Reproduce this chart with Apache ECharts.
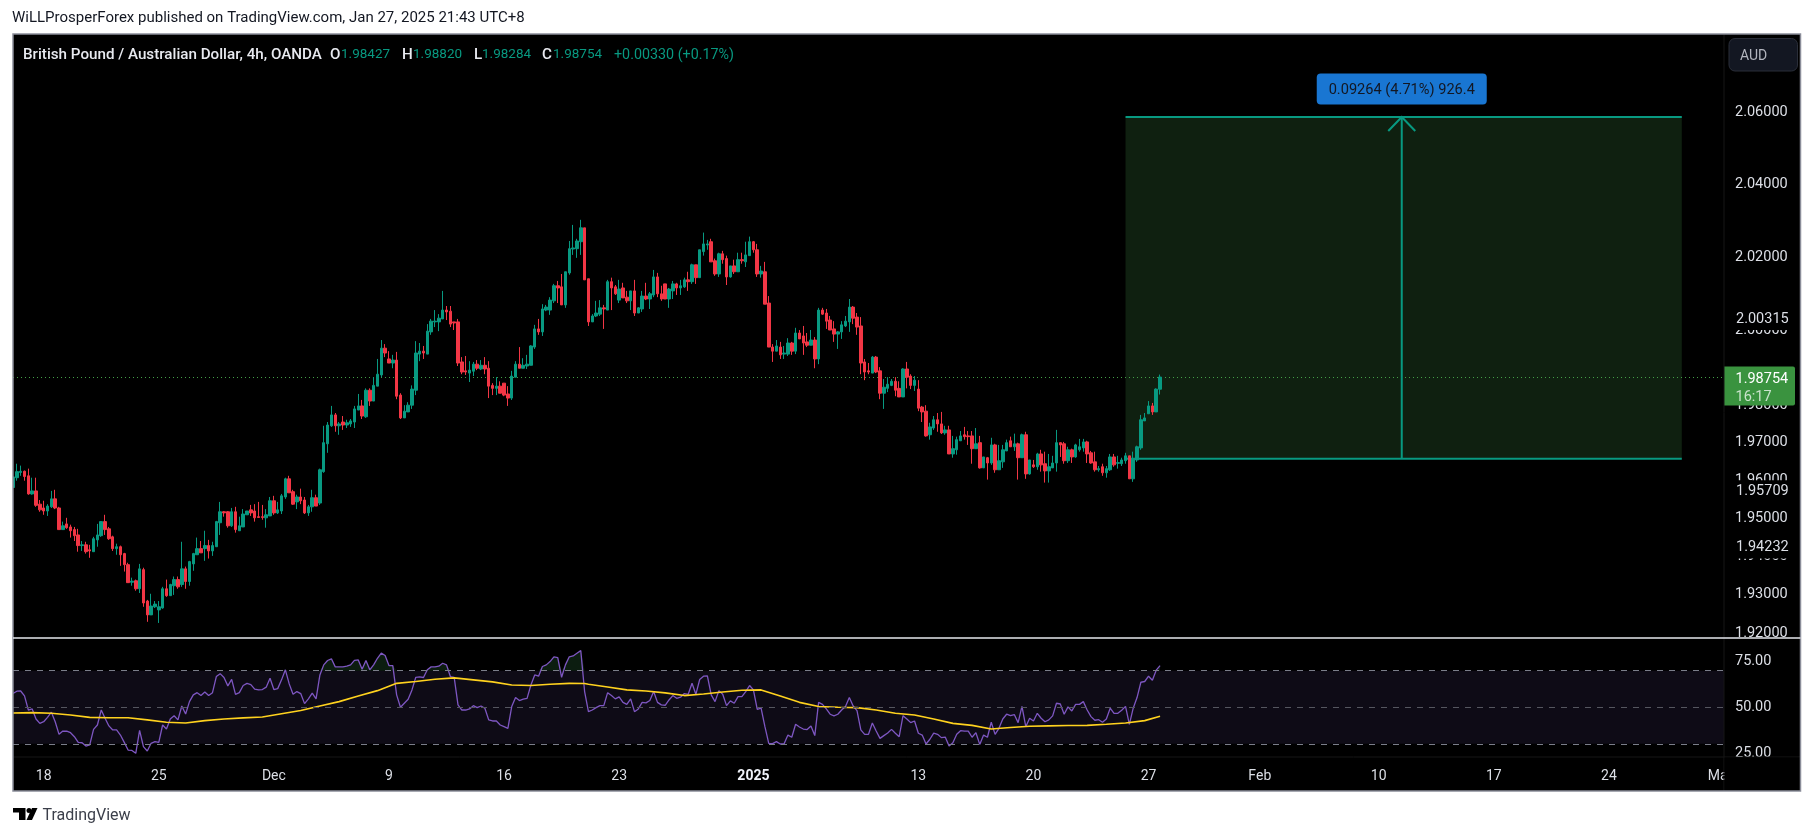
<!DOCTYPE html>
<html><head><meta charset="utf-8">
<style>html,body{margin:0;padding:0;background:#fff}#c{width:1814px;height:836px}</style>
<script src="https://cdn.jsdelivr.net/npm/echarts@6/dist/echarts.min.js"></script>
</head><body><div id="c"></div>
<script>
// [open, close, low, high] per 4h bar
const ohlc = [
[1.9581,1.9609,1.9581,1.9609],[1.9607,1.9623,1.9599,1.9644],[1.9621,1.9624,1.9612,1.9639],[1.9624,1.9610,1.9599,1.9626],[1.9612,1.9564,1.9562,1.9631],
[1.9564,1.9572,1.9562,1.9607],[1.9572,1.9534,1.9530,1.9607],[1.9537,1.9522,1.9517,1.9548],[1.9527,1.9519,1.9509,1.9546],[1.9519,1.9532,1.9506,1.9537],
[1.9530,1.9551,1.9527,1.9572],[1.9551,1.9527,1.9524,1.9575],[1.9527,1.9470,1.9470,1.9530],[1.9470,1.9480,1.9470,1.9491],[1.9485,1.9475,1.9472,1.9501],
[1.9477,1.9467,1.9449,1.9483],[1.9470,1.9454,1.9440,1.9477],[1.9456,1.9428,1.9412,1.9472],[1.9428,1.9430,1.9414,1.9440],[1.9430,1.9412,1.9407,1.9438],
[1.9417,1.9414,1.9396,1.9430],[1.9412,1.9446,1.9412,1.9451],[1.9443,1.9456,1.9425,1.9485],[1.9454,1.9491,1.9451,1.9491],[1.9491,1.9470,1.9456,1.9509],
[1.9472,1.9446,1.9443,1.9477],[1.9451,1.9420,1.9414,1.9454],[1.9420,1.9425,1.9404,1.9433],[1.9425,1.9404,1.9375,1.9428],[1.9407,1.9378,1.9360,1.9409],
[1.9378,1.9331,1.9331,1.9383],[1.9332,1.9335,1.9323,1.9344],[1.9336,1.9315,1.9310,1.9339],[1.9315,1.9367,1.9304,1.9380],[1.9365,1.9278,1.9268,1.9370],
[1.9283,1.9247,1.9229,1.9286],[1.9247,1.9270,1.9247,1.9302],[1.9268,1.9275,1.9265,1.9283],[1.9260,1.9268,1.9226,1.9283],[1.9265,1.9315,1.9263,1.9320],
[1.9315,1.9297,1.9294,1.9339],[1.9297,1.9326,1.9297,1.9328],[1.9323,1.9339,1.9299,1.9347],[1.9339,1.9320,1.9315,1.9347],[1.9326,1.9367,1.9320,1.9438],
[1.9367,1.9334,1.9315,1.9373],[1.9334,1.9386,1.9323,1.9388],[1.9380,1.9407,1.9362,1.9409],[1.9404,1.9420,1.9404,1.9449],[1.9420,1.9409,1.9409,1.9440],
[1.9420,1.9428,1.9388,1.9467],[1.9428,1.9414,1.9394,1.9443],[1.9414,1.9428,1.9401,1.9438],[1.9425,1.9491,1.9425,1.9493],[1.9488,1.9517,1.9456,1.9543],
[1.9517,1.9514,1.9504,1.9519],[1.9517,1.9480,1.9475,1.9519],[1.9480,1.9517,1.9477,1.9527],[1.9517,1.9470,1.9462,1.9530],[1.9467,1.9480,1.9467,1.9504],
[1.9477,1.9511,1.9477,1.9524],[1.9509,1.9519,1.9509,1.9519],[1.9522,1.9514,1.9506,1.9535],[1.9519,1.9501,1.9491,1.9537],[1.9504,1.9502,1.9501,1.9543],
[1.9504,1.9502,1.9496,1.9535],[1.9501,1.9509,1.9475,1.9524],[1.9506,1.9546,1.9506,1.9556],[1.9546,1.9514,1.9509,1.9559],[1.9514,1.9522,1.9511,1.9543],
[1.9519,1.9559,1.9511,1.9564],[1.9556,1.9604,1.9551,1.9607],[1.9604,1.9567,1.9567,1.9612],[1.9570,1.9537,1.9535,1.9575],[1.9543,1.9556,1.9524,1.9562],
[1.9556,1.9546,1.9537,1.9578],[1.9548,1.9514,1.9511,1.9556],[1.9514,1.9530,1.9506,1.9535],[1.9530,1.9554,1.9517,1.9575],[1.9554,1.9532,1.9532,1.9562],
[1.9540,1.9628,1.9535,1.9631],[1.9623,1.9700,1.9620,1.9745],[1.9697,1.9747,1.9673,1.9755],[1.9745,1.9774,1.9742,1.9798],[1.9774,1.9745,1.9729,1.9779],
[1.9745,1.9750,1.9721,1.9755],[1.9755,1.9747,1.9734,1.9771],[1.9747,1.9753,1.9739,1.9761],[1.9750,1.9758,1.9742,1.9763],[1.9755,1.9790,1.9739,1.9798],
[1.9787,1.9798,1.9787,1.9830],[1.9798,1.9771,1.9763,1.9814],[1.9769,1.9840,1.9766,1.9845],[1.9840,1.9811,1.9798,1.9845],[1.9811,1.9853,1.9811,1.9875],
[1.9851,1.9883,1.9851,1.9924],[1.9881,1.9953,1.9875,1.9975],[1.9953,1.9940,1.9929,1.9964],[1.9924,1.9913,1.9913,1.9945],[1.9913,1.9921,1.9899,1.9935],
[1.9921,1.9824,1.9816,1.9943],[1.9827,1.9766,1.9763,1.9832],[1.9766,1.9784,1.9766,1.9800],[1.9782,1.9800,1.9782,1.9808],[1.9800,1.9843,1.9790,1.9853],
[1.9840,1.9940,1.9827,1.9972],[1.9937,1.9945,1.9918,1.9967],[1.9945,1.9940,1.9924,1.9959],[1.9937,1.9999,1.9937,2.0018],[1.9997,2.0026,1.9989,2.0032],
[2.0024,2.0026,2.0010,2.0056],[2.0024,2.0034,1.9999,2.0045],[2.0032,2.0056,2.0032,2.0108],[2.0056,2.0051,2.0029,2.0067],[2.0053,2.0018,2.0010,2.0067],
[2.0024,2.0021,2.0002,2.0024],[2.0024,1.9913,1.9905,2.0032],[1.9916,1.9889,1.9883,1.9929],[1.9892,1.9889,1.9881,1.9932],[1.9886,1.9894,1.9862,1.9918],
[1.9891,1.9910,1.9878,1.9916],[1.9910,1.9899,1.9894,1.9921],[1.9897,1.9907,1.9894,1.9921],[1.9907,1.9897,1.9883,1.9929],[1.9899,1.9851,1.9819,1.9918],
[1.9853,1.9845,1.9827,1.9859],[1.9845,1.9851,1.9827,1.9875],[1.9851,1.9832,1.9832,1.9864],[1.9859,1.9827,1.9824,1.9859],[1.9830,1.9819,1.9798,1.9851],
[1.9819,1.9878,1.9814,1.9892],[1.9875,1.9910,1.9875,1.9918],[1.9910,1.9899,1.9899,1.9956],[1.9899,1.9907,1.9899,1.9926],[1.9905,1.9910,1.9897,1.9935],
[1.9907,1.9959,1.9907,1.9961],[1.9956,2.0005,1.9951,2.0016],[2.0005,1.9997,1.9989,2.0032],[1.9997,2.0059,1.9986,2.0072],[2.0056,2.0064,2.0053,2.0070],
[2.0056,2.0083,2.0043,2.0091],[2.0081,2.0122,2.0075,2.0127],[2.0122,2.0116,2.0075,2.0135],[2.0119,2.0070,2.0070,2.0154],[2.0070,2.0160,2.0062,2.0160],
[2.0157,2.0223,2.0152,2.0244],[2.0222,2.0225,2.0206,2.0288],[2.0223,2.0244,2.0198,2.0250],[2.0242,2.0280,2.0206,2.0302],[2.0280,2.0138,2.0138,2.0280],
[2.0141,2.0024,2.0013,2.0141],[2.0024,2.0040,2.0024,2.0045],[2.0040,2.0048,2.0037,2.0081],[2.0045,2.0062,2.0040,2.0083],[2.0062,2.0059,2.0005,2.0070],
[2.0056,2.0133,2.0056,2.0138],[2.0133,2.0116,2.0056,2.0144],[2.0119,2.0100,2.0097,2.0124],[2.0083,2.0113,2.0075,2.0138],[2.0116,2.0089,2.0089,2.0130],
[2.0091,2.0081,2.0075,2.0108],[2.0081,2.0108,2.0056,2.0108],[2.0108,2.0048,2.0040,2.0138],[2.0048,2.0062,2.0048,2.0064],[2.0059,2.0094,2.0051,2.0108],
[2.0094,2.0086,2.0083,2.0130],[2.0086,2.0100,2.0059,2.0105],[2.0097,2.0146,2.0091,2.0165],[2.0146,2.0100,2.0091,2.0157],[2.0100,2.0086,2.0081,2.0122],
[2.0127,2.0086,2.0086,2.0127],[2.0086,2.0113,2.0062,2.0116],[2.0108,2.0127,2.0086,2.0135],[2.0127,2.0116,2.0097,2.0130],[2.0116,2.0122,2.0097,2.0138],
[2.0119,2.0138,2.0116,2.0144],[2.0138,2.0133,2.0108,2.0160],[2.0133,2.0179,2.0127,2.0182],[2.0179,2.0144,2.0127,2.0179],[2.0144,2.0220,2.0144,2.0220],
[2.0215,2.0236,2.0204,2.0267],[2.0233,2.0236,2.0220,2.0247],[2.0242,2.0187,2.0187,2.0250],[2.0190,2.0154,2.0149,2.0196],[2.0154,2.0209,2.0146,2.0212],
[2.0209,2.0193,2.0182,2.0217],[2.0196,2.0146,2.0124,2.0204],[2.0146,2.0176,2.0144,2.0176],[2.0176,2.0160,2.0154,2.0193],[2.0160,2.0193,2.0160,2.0212],
[2.0193,2.0190,2.0182,2.0212],[2.0187,2.0206,2.0173,2.0242],[2.0204,2.0242,2.0204,2.0256],[2.0242,2.0220,2.0212,2.0244],[2.0220,2.0154,2.0146,2.0236],
[2.0154,2.0162,2.0144,2.0176],[2.0160,2.0072,2.0072,2.0187],[2.0075,1.9956,1.9956,2.0094],[1.9956,1.9945,1.9916,1.9964],[1.9945,1.9959,1.9945,1.9975],
[1.9956,1.9935,1.9924,1.9970],[1.9937,1.9940,1.9924,1.9959],[1.9937,1.9967,1.9932,1.9980],[1.9967,1.9945,1.9935,1.9970],[1.9945,1.9994,1.9937,2.0008],
[1.9994,1.9978,1.9978,2.0002],[1.9986,1.9967,1.9935,2.0013],[1.9970,1.9961,1.9956,1.9994],[1.9961,1.9975,1.9961,2.0002],[1.9975,1.9924,1.9899,1.9983],
[1.9924,2.0056,1.9910,2.0062],[2.0056,2.0045,2.0043,2.0062],[2.0048,2.0026,2.0005,2.0059],[2.0029,2.0002,2.0002,2.0040],[2.0005,1.9991,1.9970,2.0026],
[1.9991,1.9997,1.9951,1.9999],[1.9997,2.0016,1.9978,2.0026],[2.0013,2.0026,2.0010,2.0040],[2.0024,2.0064,1.9997,2.0086],[2.0064,2.0034,2.0018,2.0067],
[2.0037,2.0010,1.9989,2.0048],[2.0013,1.9913,1.9883,2.0037],[1.9916,1.9889,1.9867,1.9924],[1.9892,1.9889,1.9883,1.9913],[1.9886,1.9929,1.9886,1.9932],
[1.9929,1.9889,1.9886,1.9932],[1.9892,1.9832,1.9816,1.9902],[1.9832,1.9848,1.9790,1.9870],[1.9845,1.9856,1.9835,1.9875],[1.9853,1.9864,1.9851,1.9870],
[1.9864,1.9840,1.9824,1.9875],[1.9845,1.9822,1.9822,1.9864],[1.9822,1.9897,1.9822,1.9899],[1.9897,1.9875,1.9845,1.9916],[1.9878,1.9853,1.9843,1.9883],
[1.9853,1.9867,1.9838,1.9878],[1.9843,1.9792,1.9784,1.9867],[1.9795,1.9782,1.9755,1.9798],[1.9784,1.9718,1.9716,1.9800],[1.9721,1.9742,1.9708,1.9753],
[1.9739,1.9761,1.9734,1.9771],[1.9761,1.9750,1.9729,1.9779],[1.9750,1.9726,1.9723,1.9782],[1.9726,1.9734,1.9721,1.9745],[1.9734,1.9670,1.9670,1.9745],
[1.9670,1.9684,1.9660,1.9718],[1.9681,1.9708,1.9668,1.9716],[1.9705,1.9718,1.9705,1.9731],[1.9721,1.9716,1.9708,1.9742],[1.9718,1.9716,1.9694,1.9731],
[1.9718,1.9684,1.9644,1.9731],[1.9684,1.9697,1.9684,1.9739],[1.9700,1.9633,1.9631,1.9718],[1.9633,1.9662,1.9633,1.9662],[1.9660,1.9646,1.9602,1.9662],
[1.9646,1.9694,1.9641,1.9713],[1.9694,1.9628,1.9620,1.9697],[1.9628,1.9652,1.9628,1.9694],[1.9649,1.9681,1.9633,1.9694],[1.9678,1.9700,1.9678,1.9708],
[1.9705,1.9689,1.9689,1.9716],[1.9689,1.9697,1.9678,1.9724],[1.9697,1.9660,1.9602,1.9700],[1.9660,1.9721,1.9660,1.9724],[1.9721,1.9617,1.9604,1.9729],
[1.9617,1.9654,1.9615,1.9654],[1.9641,1.9636,1.9633,1.9654],[1.9636,1.9670,1.9628,1.9673],[1.9670,1.9641,1.9623,1.9681],[1.9644,1.9625,1.9594,1.9676],
[1.9625,1.9636,1.9594,1.9670],[1.9633,1.9646,1.9633,1.9665],[1.9646,1.9700,1.9623,1.9734],[1.9700,1.9694,1.9662,1.9700],[1.9697,1.9652,1.9644,1.9702],
[1.9652,1.9681,1.9646,1.9689],[1.9681,1.9662,1.9646,1.9684],[1.9662,1.9694,1.9660,1.9697],[1.9681,1.9689,1.9676,1.9710],[1.9686,1.9702,1.9676,1.9710],
[1.9702,1.9670,1.9646,1.9705],[1.9673,1.9646,1.9644,1.9678],[1.9649,1.9628,1.9623,1.9676],[1.9628,1.9631,1.9623,1.9638],[1.9636,1.9620,1.9612,1.9644],
[1.9620,1.9631,1.9607,1.9638],[1.9628,1.9662,1.9625,1.9670],[1.9662,1.9641,1.9636,1.9670],[1.9645,1.9647,1.9631,1.9665],[1.9644,1.9654,1.9638,1.9660],
[1.9652,1.9665,1.9644,1.9673],[1.9665,1.9604,1.9604,1.9665],[1.9604,1.9657,1.9596,1.9676],[1.9654,1.9689,1.9649,1.9692],[1.9686,1.9761,1.9681,1.9774],
[1.9758,1.9766,1.9758,1.9779],[1.9777,1.9798,1.9777,1.9811],[1.9798,1.9782,1.9774,1.9806],[1.9782,1.9843,1.9782,1.9845],[1.98427,1.98754,1.98284,1.98820]
];
const rsiValues = [
57.5,58.8,58.9,56.2,48.5,49.1,43.6,41.2,42.1,44.5,47.3,42.1,35.2,37.0,36.9,36.1,33.9,30.8,30.6,28.8,
29.4,37.9,40.3,48.5,44.0,39.8,37.6,37.6,34.8,30.8,26.6,26.4,24.8,37.4,28.5,26.1,30.3,31.2,30.8,40.3,
38.1,43.6,45.4,43.1,50.7,46.3,53.1,56.8,58.0,56.4,58.4,56.4,58.0,66.8,68.4,66.3,61.7,65.3,57.1,58.0,
61.9,63.1,62.4,59.9,59.5,59.7,61.0,65.9,59.7,60.2,65.0,70.5,62.8,57.1,58.6,57.5,52.0,54.6,57.7,54.6,
67.7,73.2,75.6,76.5,72.1,72.1,72.1,72.5,73.2,75.7,75.9,70.8,75.6,70.5,73.2,76.8,79.6,78.3,72.8,72.8,
56.8,50.0,52.2,54.4,59.5,66.4,66.6,66.3,70.5,72.1,72.1,72.5,74.1,73.2,66.8,66.4,51.3,48.5,48.5,49.1,
50.9,49.8,50.7,49.5,43.1,42.5,42.5,40.3,39.4,38.5,50.4,55.3,53.7,54.4,54.9,62.2,67.7,67.0,72.3,73.2,
75.0,77.6,77.2,66.4,73.2,77.6,78.1,79.6,81.0,58.6,47.6,48.5,49.8,50.9,50.9,58.0,56.4,54.6,55.7,52.7,
51.6,54.6,47.6,49.1,52.7,52.4,53.7,58.6,52.7,51.3,51.1,54.0,56.4,54.9,55.5,57.5,57.1,63.1,57.1,65.2,
67.0,67.2,56.8,53.1,59.1,57.1,50.9,53.5,52.2,55.8,55.8,58.6,61.9,59.5,48.9,49.5,39.4,30.3,30.1,31.2,
29.9,30.1,34.8,33.6,40.7,39.2,38.1,37.8,39.8,34.5,52.7,51.6,49.1,46.2,45.3,46.2,48.5,50.4,55.3,50.7,
48.2,37.6,35.2,35.2,41.4,37.0,33.0,34.5,35.9,37.9,35.8,33.9,45.4,43.6,41.6,42.5,35.8,34.8,29.9,32.5,
35.9,35.2,33.4,33.7,28.8,30.6,35.2,37.2,37.0,37.0,33.6,36.1,29.7,34.8,33.6,41.8,35.2,38.5,43.6,46.2,
45.4,46.0,41.6,50.5,39.4,44.0,42.5,46.7,44.0,42.1,43.1,45.3,52.2,51.8,46.2,50.2,48.0,51.6,51.6,53.1,
48.5,44.9,42.9,43.2,41.8,43.6,49.5,46.7,46.7,48.4,50.5,40.7,49.5,55.3,63.7,64.1,67.0,64.8,70.3,72.8
];
const rsiMaBars = [0,5,10,15,20,25,30,35,40,45,50,55,60,65,70,75,80,85,90,95,100,105,110,115,120,125,130,135,140,145,149,150,155,160,165,170,175,180,185,190,195,200,205,210,215,220,225,230,235,240,245,250,255,260,265,270,275,280,285,290,295,299];
const rsiMaValues = [46.9,47.1,46.7,45.8,44.5,44.3,44.3,43.1,41.8,41.4,42.7,43.6,44.2,44.7,46.5,48.2,50.7,53.1,56.2,59.1,63.1,64.1,65.3,66.1,65.0,63.9,62.2,61.9,62.6,63.1,63.0,62.6,61.1,59.5,58.9,57.9,56.4,57.3,58.4,59.3,59.5,56.2,52.7,50.4,50.0,49.8,48.5,46.7,45.8,43.6,41.2,40.1,38.1,38.9,39.6,39.8,40.0,40.1,40.7,41.4,42.7,45.1];
const barCount = 447;
const timeTickBars = [8,38,68,98,128,158,193,236,266,296,325,356,386,416,445];
const timeTickLabels = ['18','25','Dec','9','16','23','2025','13','20','27','Feb','10','17','24','Mar'];
const priceTicks = [2.06,2.04,2.02,2.00,1.98,1.97,1.96,1.95,1.94,1.93,1.92];
const priceMarks = [2.00315,1.95709,1.94232];
const rsiTicks = [75,50,25];
const rsiLevels = [70,50,30];
const lastClose = 1.98754;
const toolLeftBar = 290, toolRightBar = 435, toolMidBar = 362;
const toolTop = 2.0586, toolEntry = 1.9657;

const UP='#089981', DOWN='#F23645', LABEL='#dcdfe6', FONT='Roboto, sans-serif';
const categories = Array.from({length:barCount},(_,i)=>{const k=timeTickBars.indexOf(i);return k>=0?timeTickLabels[k]:'';});
const gridL=13, gridW=1711, gridR=gridL+gridW, frameR=1800.5, priceTop=34, sepY=638, timeY=757, frameB=791;

const chart = echarts.init(document.getElementById('c'),null,{renderer:'canvas'});
const priceAxis = (extra)=>Object.assign({type:'log',logBase:10,gridIndex:0,position:'right',min:1.9187,max:2.0818,
  axisLine:{show:false},axisTick:{show:false},splitLine:{show:false},minorTick:{show:false},minorSplitLine:{show:false}},extra);
const priceLabel = {show:true,color:LABEL,fontFamily:FONT,fontSize:14.5,margin:11,align:'left',padding:[8,0,0,0],formatter:v=>Number(v).toFixed(5)};

function t(x,y,text,fill,font,extra){return Object.assign({type:'text',z:110,silent:true,style:{x,y,text,fill,font,verticalAlign:'middle'}},extra||{});}
const legendY=55, LF='13.5px '+FONT, LB='500 15.2px '+FONT;
chart.setOption({
  animation:false,
  backgroundColor:'#ffffff',
  grid:[{left:gridL,top:priceTop,width:gridW,height:sepY-priceTop},{left:gridL,top:sepY,width:gridW,height:timeY-sepY}],
  xAxis:[
    {type:'category',gridIndex:0,data:categories,boundaryGap:false,axisLine:{show:false},axisTick:{show:false},axisLabel:{show:false},splitLine:{show:false}},
    {type:'category',gridIndex:1,data:categories,boundaryGap:false,axisLine:{show:false},axisTick:{show:false},splitLine:{show:false},
     axisLabel:{show:true,interval:(i,v)=>v!=='',color:LABEL,fontFamily:FONT,fontSize:14,margin:12,
       formatter:v=>v==='2025'?'{b|2025}':v,rich:{b:{fontWeight:'bold',fontSize:14,color:'#f0f3fa',fontFamily:FONT}}}}
  ],
  yAxis:[
    priceAxis({z:1,axisLabel:Object.assign({},priceLabel,{customValues:priceTicks})}),
    priceAxis({z:2,axisLabel:Object.assign({},priceLabel,{customValues:priceMarks,backgroundColor:'#000',padding:[7,1,0,1]})}),
    {type:'value',gridIndex:1,position:'right',min:22.8,max:87.9,axisLine:{show:false},axisTick:{show:false},splitLine:{show:false},
     axisLabel:{show:true,customValues:rsiTicks,color:LABEL,fontFamily:FONT,fontSize:14.5,margin:11,align:'left',padding:[5,0,0,0],formatter:v=>Number(v).toFixed(2)}}
  ],
  series:[
    {type:'custom',name:'Position',xAxisIndex:0,yAxisIndex:0,z:1,silent:true,data:[[toolMidBar,toolTop]],
     renderItem(p,api){
       const a=api.coord([toolLeftBar,toolTop]), b=api.coord([toolRightBar,toolEntry]), m=api.coord([toolMidBar,toolTop]);
       const priceY=Math.round(api.coord([0,lastClose])[1])+0.5;
       const L={stroke:UP,lineWidth:2,fill:null};
       const cy=m[1]-28;
       return {type:'group',children:[
         {type:'rect',shape:{x:a[0],y:a[1],width:b[0]-a[0],height:b[1]-a[1]},style:{fill:'#0f2010'}},
         {type:'line',shape:{x1:gridL,y1:priceY,x2:gridR,y2:priceY},style:{stroke:'#43a047',lineWidth:1,lineDash:[1,3]}},
         {type:'line',shape:{x1:a[0],y1:a[1],x2:b[0],y2:a[1]},style:L},
         {type:'line',shape:{x1:a[0],y1:b[1],x2:b[0],y2:b[1]},style:L},
         {type:'line',shape:{x1:m[0],y1:a[1],x2:m[0],y2:b[1]},style:{stroke:UP,lineWidth:2}},
         {type:'polyline',shape:{points:[[m[0]-13.5,a[1]+14],[m[0],a[1]],[m[0]+13.5,a[1]+14]]},style:{stroke:UP,lineWidth:2,fill:null}},
         {type:'rect',shape:{x:m[0]-85,y:cy-15.5,width:170,height:31,r:4},style:{fill:'#1976D2'}},
         {type:'text',style:{x:m[0],y:cy+1,text:'0.09264 (4.71%) 926.4',fill:'#131722',font:'14.6px '+FONT,align:'center',verticalAlign:'middle'}}
       ]};
     }},
    {type:'candlestick',name:'GBPAUD',xAxisIndex:0,yAxisIndex:0,z:3,data:ohlc,barWidth:3,
     itemStyle:{color:UP,color0:DOWN,borderColor:UP,borderColor0:DOWN,borderWidth:1}},
    {type:'custom',name:'Price tag',xAxisIndex:0,yAxisIndex:0,z:8,silent:true,data:[[299,lastClose]],
     renderItem(p,api){
       const c=api.coord([299,lastClose]), x=gridR;
       return {type:'group',children:[
         {type:'rect',shape:{x,y:c[1]-10.5,width:71,height:39,r:[0,2,2,0]},style:{fill:'#3a933f'}},
         {type:'text',style:{x:x+11.5,y:c[1]+2.5,text:lastClose.toFixed(5),fill:'#ffffff',font:'14.5px '+FONT,verticalAlign:'middle'}},
         {type:'text',style:{x:x+11.5,y:c[1]+20.5,text:'16:17',fill:'#c9e3cb',font:'14.5px '+FONT,verticalAlign:'middle'}}
       ]};
     }},
    {type:'line',name:'RSI band',xAxisIndex:1,yAxisIndex:2,z:1,data:[],silent:true,
     markArea:{silent:true,itemStyle:{color:'#0e0b16'},data:[[{yAxis:rsiLevels[2]},{yAxis:rsiLevels[0]}]]},
     markLine:{silent:true,symbol:'none',label:{show:false},lineStyle:{color:'#7b7e8a',type:[6,6],width:1},
       data:rsiLevels.map(v=>v===50?{yAxis:v,lineStyle:{color:'#55565f'}}:{yAxis:v})}},
    {type:'line',name:'RSI over',xAxisIndex:1,yAxisIndex:2,z:2,silent:true,showSymbol:false,data:rsiValues.map(v=>Math.max(v,rsiLevels[0])),
     lineStyle:{opacity:0},areaStyle:{color:'#0c1d10',origin:rsiLevels[0],opacity:1}},
    {type:'line',name:'RSI',xAxisIndex:1,yAxisIndex:2,z:3,silent:true,showSymbol:false,data:rsiValues,lineStyle:{color:'#7E57C2',width:1.3}},
    {type:'line',name:'RSI MA',xAxisIndex:1,yAxisIndex:2,z:4,silent:true,showSymbol:false,data:rsiMaBars.map((b,k)=>[b,rsiMaValues[k]]),lineStyle:{color:'#FFD21E',width:1.6}}
  ],
  graphic:[
    {type:'rect',z:-5,silent:true,shape:{x:gridL,y:priceTop,width:frameR-gridL,height:frameB-priceTop},style:{fill:'#000'}},
    {type:'rect',z:99,silent:true,shape:{x:0,y:priceTop,width:gridL,height:frameB-priceTop},style:{fill:'#fff'}},
    {type:'line',z:98,silent:true,shape:{x1:gridR,y1:priceTop,x2:gridR,y2:frameB},style:{stroke:'#161616',lineWidth:1}},
    {type:'line',z:98,silent:true,shape:{x1:gridL,y1:timeY,x2:frameR,y2:timeY},style:{stroke:'#161616',lineWidth:1}},
    {type:'rect',z:99,silent:true,shape:{x:gridR+0.5,y:timeY+0.5,width:frameR-gridR-1,height:frameB-timeY-1},style:{fill:'#000'}},
    {type:'rect',z:100,silent:true,shape:{x:gridL,y:priceTop,width:frameR-gridL,height:frameB-priceTop},style:{fill:'none',stroke:'#8a8d99',lineWidth:1.5}},
    {type:'line',z:100,silent:true,shape:{x1:gridL,y1:sepY,x2:frameR,y2:sepY},style:{stroke:'#e6e8ee',lineWidth:1.5}},
    t(12,18,'WiLLProsperForex published on TradingView.com, Jan 27, 2025 21:43 UTC+8','#131722','15px '+FONT),
    t(23,legendY,'British Pound / Australian Dollar, 4h, OANDA','#e8eaf0',LB),
    t(330,legendY,'O','#e8eaf0',LB),t(341,legendY,'1.98427',UP,LF),
    t(402,legendY,'H','#e8eaf0',LB),t(413,legendY,'1.98820',UP,LF),
    t(474,legendY,'L','#e8eaf0',LB),t(482,legendY,'1.98284',UP,LF),
    t(542,legendY,'C','#e8eaf0',LB),t(553,legendY,'1.98754',UP,LF),
    t(614,legendY,'+0.00330 (+0.17%)',UP,'14.3px '+FONT),
    {type:'rect',z:105,silent:true,shape:{x:1729,y:38.5,width:68.5,height:32.5,r:6},style:{fill:'#131722',stroke:'#2a2e39',lineWidth:1}},
    t(1740,56,'AUD','#b2b5be','14px '+FONT),
    {type:'polygon',z:110,silent:true,shape:{points:[[13,808],[25.5,808],[25.5,820],[19,820],[19,812.5],[13,812.5]]},style:{fill:'#000'}},
    {type:'polygon',z:110,silent:true,shape:{points:[[32,808],[37.5,808],[32,820],[26.5,820]]},style:{fill:'#000'}},
    {type:'circle',z:110,silent:true,shape:{cx:29,cy:810.4,r:2.5},style:{fill:'#000'}},
    t(42.5,816,'TradingView','#3b3f4a','16px '+FONT)
  ]
});
</script></body></html>
